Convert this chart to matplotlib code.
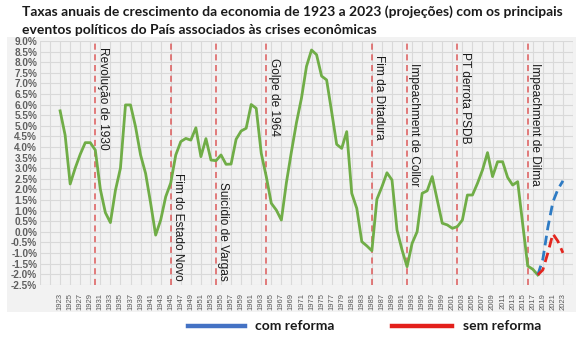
import matplotlib
matplotlib.use("Agg")
import matplotlib.pyplot as plt
from matplotlib.patches import Rectangle
from matplotlib.lines import Line2D
import numpy as np

# Historical annual growth (%), 1923-2018
years = list(range(1923, 2019))
growth = [5.7, 4.55, 2.25, 3.0, 3.65, 4.2, 4.2, 3.85, 2.0, 0.9,
          0.43, 1.95, 3.0, 5.98, 5.98, 4.95, 3.62, 2.75, 1.35, -0.16,
          0.55, 1.65, 2.3, 3.62, 4.25, 4.4, 4.32, 4.9, 3.54, 4.39,
          3.38, 3.35, 3.62, 3.18, 3.19, 4.36, 4.75, 4.88, 6.0, 5.82,
          3.7, 2.6, 1.34, 1.02, 0.55, 2.31, 3.77, 5.14, 6.3, 7.8,
          8.57, 8.35, 7.34, 7.16, 5.66, 4.12, 3.93, 4.72, 1.81, 1.1,
          -0.47, -0.67, -0.9, 1.53, 2.12, 2.78, 2.44, 0.08, -0.86, -1.65,
          -0.55, 0.0, 1.81, 1.93, 2.6, 1.5, 0.4, 0.32, 0.16, 0.24,
          0.55, 1.73, 1.73, 2.28, 2.91, 3.73, 2.6, 3.3, 3.3, 2.56,
          2.2, 2.36, 0.35, -1.62, -1.77, -2.04]

# Projections 2018-2023
proj_years = [2018, 2019, 2020, 2021, 2022, 2023]
com_reforma = [-2.04, -1.3, 0.2, 1.4, 2.0, 2.4]
sem_reforma = [-2.04, -1.8, -1.0, -0.1, -0.45, -1.0]

# Political events: (year, label, top of label in %)
event_years = [1930, 1945, 1954, 1964, 1985, 1992, 2002, 2016]
event_labels = ["Revolução de 1930", "Fim do Estado Novo", "Suicídio de Vargas",
                "Golpe de 1964", "Fim da Ditadura", "Impeachment de Collor",
                "PT derrota PSDB", "Impeachment de Dilma"]
event_label_tops = [8.71, 2.77, 2.34, 8.19, 8.33, 7.96, 8.48, 7.96]

tick_years = list(range(1923, 2024, 2))

W, H = 579, 340
fig = plt.figure(figsize=(W / 100, H / 100), dpi=100)
fig.patch.set_facecolor("white")

bg = "#f2f2f2"
fig.add_artist(Rectangle((7 / W, 28 / H), (576 - 7) / W, (312 - 37) / H,
                         transform=fig.transFigure, facecolor=bg,
                         edgecolor="none", zorder=0))

ax = fig.add_axes([40 / W, 55.3 / H, (573 - 40) / W, (284.7 - 40.9) / H])
ax.set_facecolor(bg)
ax.set_xlim(1919, 2025)
ax.set_ylim(-2.5, 9.0)

# grid
for x in range(1919, 2026, 2):
    ax.axvline(x, color="#d9d9d9", lw=0.8, zorder=1)
for y in np.arange(-2.5, 9.01, 0.5):
    ax.axhline(y, color="#d9d9d9", lw=0.8, zorder=1)

for s in ax.spines.values():
    s.set_visible(False)

ax.set_xticks(tick_years)
ax.set_xticklabels([str(y) for y in tick_years], rotation=90,
                   fontsize=5.5, color="#595959", family="Liberation Sans")
yt = np.arange(-2.5, 9.01, 0.5)
ax.set_yticks(yt)
ax.set_yticklabels([f"{v:.1f}%" for v in yt], fontsize=7.2, color="#5f5f5f",
                   family="Liberation Sans", fontweight="bold")
ax.tick_params(axis="x", length=0, pad=6)
ax.tick_params(axis="y", length=0, pad=2)

# event markers
for yr, lab, top in zip(event_years, event_labels, event_label_tops):
    ax.axvline(yr, color="#dd5a5a", lw=1.1, ls=(0, (4, 3)), zorder=2)
    ax.text(yr + 0.25, top, lab, rotation=-90, ha="left", va="top",
            fontsize=8.6, color="#1a1a1a", family="Liberation Sans", zorder=4)

ax.plot(years, growth, color="#70ad47", lw=2.0, zorder=3,
        solid_joinstyle="round")
ax.plot(proj_years, com_reforma, color="#2e7bc4", lw=2.0,
        ls=(0, (3.5, 2)), zorder=3)
ax.plot(proj_years, sem_reforma, color="#e3261f", lw=2.0,
        ls=(0, (3.5, 2)), zorder=3)

# title
fig.text(22 / W, 1 - 12 / H,
         "Taxas anuais de crescimento da economia de 1923 a 2023 (projeções) com os principais",
         fontsize=10, fontweight="bold", family="Lato", color="#1a1a1a",
         ha="left", va="center")
fig.text(22 / W, 1 - 30 / H,
         "eventos políticos do País associados às crises econômicas",
         fontsize=10, fontweight="bold", family="Lato", color="#1a1a1a",
         ha="left", va="center")

# legend
fig.add_artist(Line2D([188 / W, 245 / W], [1 - 326 / H] * 2,
                      transform=fig.transFigure, color="#4472c4", lw=3.2))
fig.text(255 / W, 1 - 326 / H, "com reforma", fontsize=10, fontweight="bold",
         family="Lato", color="#1a1a1a", ha="left", va="center")
fig.add_artist(Line2D([392 / W, 452 / W], [1 - 326 / H] * 2,
                      transform=fig.transFigure, color="#e3201b", lw=3.2))
fig.text(463 / W, 1 - 326 / H, "sem reforma", fontsize=10, fontweight="bold",
         family="Lato", color="#1a1a1a", ha="left", va="center")

fig.savefig("out.png", dpi=100, facecolor="white")
